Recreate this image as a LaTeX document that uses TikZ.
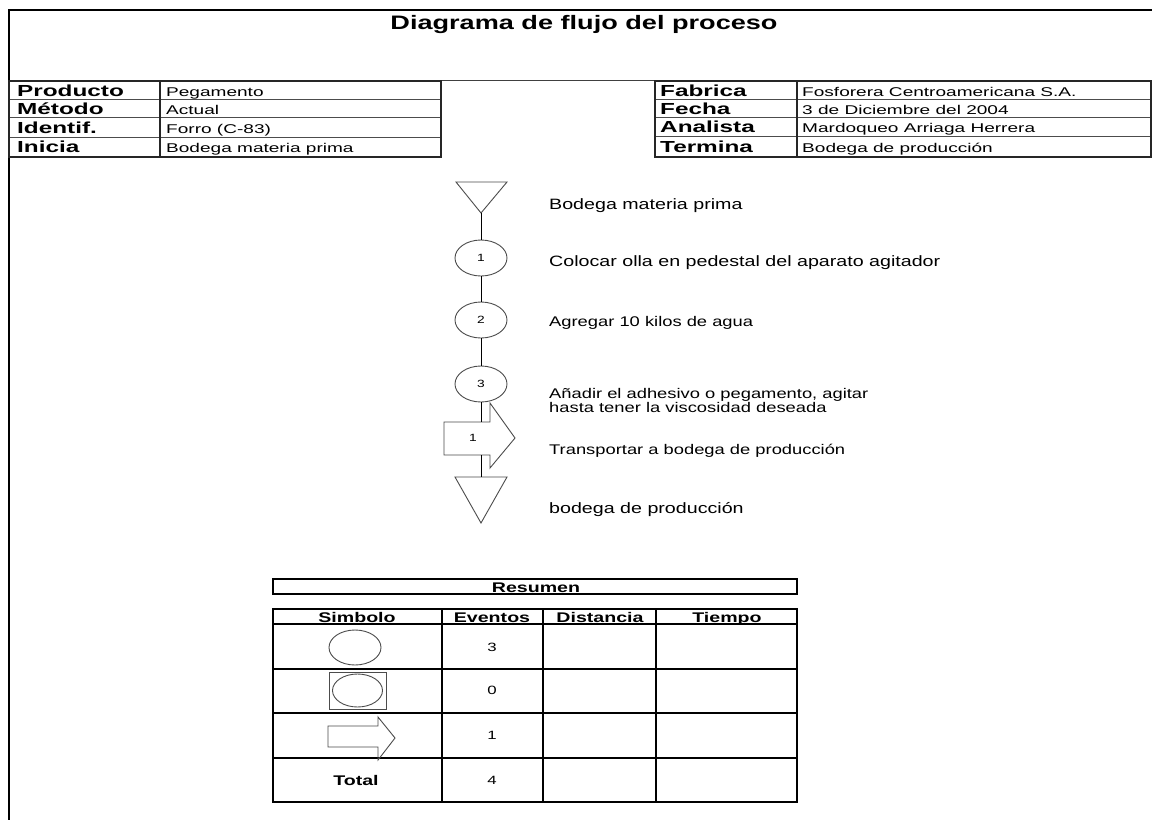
\documentclass[tikz,border=0pt]{standalone}
\usepackage{fontspec}
\setmainfont{Liberation Sans}
\newfontfamily\titlef[FakeStretch=1.39]{Liberation Sans}
\newfontfamily\labf[FakeStretch=1.52]{Liberation Sans}
\newfontfamily\valf[FakeStretch=1.5]{Liberation Sans}
\newfontfamily\bodyf[FakeStretch=1.31]{Liberation Sans}
\newfontfamily\sumf[FakeStretch=1.4]{Liberation Sans}
\usetikzlibrary{shapes.geometric}
\tikzset{
  frameline/.style={line width=2pt, black},
  thinrule/.style={line width=1pt, black!75},
  tborder/.style={line width=1.5pt, black!85},
  trow/.style={line width=1pt, black!70},
  lab/.style={anchor=west, inner sep=0pt, text height=11.5pt, text depth=0pt, font=\labf\bfseries\fontsize{16}{18}\selectfont},
  val/.style={anchor=west, inner sep=0pt, text height=9pt, text depth=0pt, font=\valf\fontsize{12.7}{14}\selectfont},
  body/.style={anchor=west, inner sep=0pt, text height=10pt, text depth=0pt, font=\bodyf\fontsize{14}{15}\selectfont},
  bodyl/.style={anchor=west, inner sep=0pt, text height=10.7pt, text depth=0pt, font=\bodyf\fontsize{15}{16}\selectfont},
  sym/.style={line width=0.9pt, black!70},
  conn/.style={line width=1pt, black},
  opcircle/.style={ellipse, draw=black!70, line width=0.9pt, minimum width=52pt, minimum height=36pt, inner sep=0pt, font=\bodyf\fontsize{10.5}{12}\selectfont},
  num/.style={inner sep=0pt, font=\bodyf\fontsize{10.5}{12}\selectfont},
  stab/.style={line width=1.6pt, black},
  shead/.style={inner sep=0pt, text height=10pt, text depth=0pt, font=\sumf\bfseries\fontsize{14}{16}\selectfont},
  sval/.style={inner sep=0pt, text height=8.5pt, text depth=0pt, font=\sumf\fontsize{12}{14}\selectfont},
}
\begin{document}
\begin{tikzpicture}[x=1pt,y=-1pt]
\useasboundingbox (0,0) rectangle (1152,820);
\fill[white] (0,0) rectangle (1152,820);
% frame
\draw[frameline] (1152,10) -- (9,10) -- (9,820);
\draw[thinrule] (9,80) -- (1152,80);
% title
\node[inner sep=0pt, text height=14pt, text depth=0pt, font=\titlef\bfseries\fontsize{19.5}{22}\selectfont] (title) at (584,22) {Diagrama de flujo del proceso};

% left header table
\foreach \y in {99,117,137} {\draw[trow] (9,\y) -- (441,\y);}
\draw[tborder] (9,81) rectangle (441,157);
\draw[tborder] (160,81) -- (160,157);
\node[lab] (lprod) at (17,91) {Producto};
\node[lab] (lmet) at (17,109) {Método};
\node[lab] (lid) at (17,127.5) {Identif.};
\node[lab] (lini) at (17,147) {Inicia};
\node[val] (vprod) at (166,92) {Pegamento};
\node[val] (vmet) at (166,110) {Actual};
\node[val] (vid) at (166,128.5) {Forro (C-83)};
\node[val] (vini) at (166,148) {Bodega materia prima};

% right header table
\foreach \y in {99,117,136} {\draw[trow] (655,\y) -- (1151,\y);}
\draw[tborder] (655,81) rectangle (1151,157);
\draw[tborder] (797,81) -- (797,157);
\node[lab] (lfab) at (660,91) {Fabrica};
\node[lab] (lfec) at (660,109) {Fecha};
\node[lab] (lana) at (660,127) {Analista};
\node[lab] (lter) at (660,147) {Termina};
\node[val] (vfab) at (802,92) {Fosforera Centroamericana S.A.};
\node[val] (vfec) at (802,110) {3 de Diciembre del 2004};
\node[val] (vana) at (802,128) {Mardoqueo Arriaga Herrera};
\node[val] (vter) at (802,148) {Bodega de producción};

% flow chart
\coordinate (t1a) at (481,213);
\draw[sym] (456,182) -- (507,182) -- (t1a) -- cycle;
\node[opcircle] (c1) at (481,258) {1};
\node[opcircle] (c2) at (481,320) {2};
\node[opcircle] (c3) at (481,384) {3};
\coordinate (artop) at (481,422);
\coordinate (arbot) at (481,455);
\draw[sym] (444,422) -- (490,422) -- (490,403) -- (515,438) -- (490,468) -- (490,455) -- (444,455) -- cycle;
\node[num] (a1) at (473,438) {1};
\coordinate (t2top) at (481,477);
\draw[sym] (455,477) -- (507,477) -- (481,523) -- cycle;

\draw[conn] (t1a) -- (c1.north);
\draw[conn] (c1.south) -- (c2.north);
\draw[conn] (c2.south) -- (c3.north);
\draw[conn] (c3.south) -- (artop);
\draw[conn] (arbot) -- (t2top);

\node[bodyl] (d1) at (549,204) {Bodega materia prima};
\node[bodyl] (d2) at (549,261) {Colocar olla en pedestal del aparato agitador};
\node[body] (d3) at (549,321) {Agregar 10 kilos de agua};
\node[body] (d4a) at (549,393) {Añadir el adhesivo o pegamento, agitar};
\node[body] (d4b) at (549,407) {hasta tener la viscosidad deseada};
\node[body] (d5) at (549,449) {Transportar a bodega de producción};
\node[bodyl] (d6) at (549,508) {bodega de producción};

% summary
\draw[stab] (273,579) rectangle (797,594);
\node[shead] (res) at (536,587) {Resumen};
\draw[stab] (273,609) rectangle (797,802);
\foreach \y in {624,669,713,758} {\draw[stab] (273,\y) -- (797,\y);}
\foreach \x in {442,543,656} {\draw[stab] (\x,609) -- (\x,802);}
\node[shead] (hsim) at (357,617) {Simbolo};
\node[shead] (hev) at (492,617) {Eventos};
\node[shead] (hdis) at (600,617) {Distancia};
\node[shead] (hti) at (727,617) {Tiempo};

\node[ellipse, draw=black!70, line width=0.9pt, minimum width=52pt, minimum height=35pt, inner sep=0pt] (s1) at (355,647.5) {};
\draw[sym] (329,672) rectangle (386,709);
\node[ellipse, draw=black!70, line width=0.9pt, minimum width=50pt, minimum height=33pt, inner sep=0pt] (s2) at (357.5,690.5) {};
\draw[sym] (328,726) -- (378,726) -- (378,717) -- (395,738) -- (378,760) -- (378,747) -- (328,747) -- cycle;

\node[sval] (e1) at (492,647) {3};
\node[sval] (e2) at (492,690) {0};
\node[sval] (e3) at (492,735) {1};
\node[sval] (e4) at (492,780) {4};
\node[shead] (tot) at (356,780) {Total};
\end{tikzpicture}
\end{document}
